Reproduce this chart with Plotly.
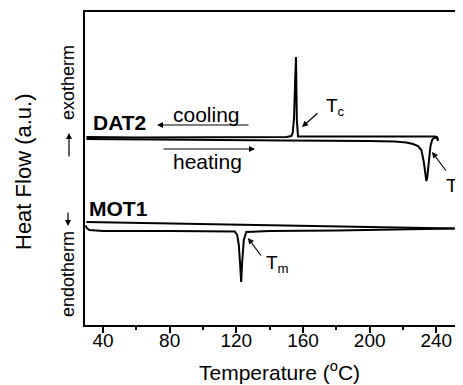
import plotly.graph_objects as go

# ---------------- data (Heat flow, arbitrary units) ----------------
dat2_cool_T = [241.0, 240.5, 239.0, 220, 200, 180, 160, 157.0, 156.3, 155.8, 155.3, 154.6, 153.8, 153.0, 150, 120, 90, 60, 30]
dat2_cool_H = [18.5, 18.8, 18.86, 18.86, 18.86, 18.86, 18.86, 18.86, 20.5, 26.8, 24.5, 20.6, 19.2, 18.9, 18.8, 18.78, 18.76, 18.76, 18.8]

dat2_heat_T = [30, 60, 100, 150, 200, 215, 222, 226, 229, 231, 232.5, 233.5, 234.0, 234.5, 235.5, 236.5, 237.5, 238.5, 239.5, 240.5, 241.0]
dat2_heat_H = [18.6, 18.55, 18.5, 18.45, 18.4, 18.35, 18.25, 18.1, 17.9, 17.5, 16.3, 14.7, 14.4, 14.7, 16.5, 17.9, 18.5, 18.7, 18.75, 18.65, 18.4]

mot1_cool_T = [251, 200, 150, 100, 30]
mot1_cool_H = [9.65, 9.8, 9.95, 10.1, 10.3]

mot1_heat_T = [29.5, 30.5, 32, 40, 80, 115, 119, 120.5, 121.5, 122.3, 122.9, 123.5, 124.5, 126, 140, 180, 220, 251]
mot1_heat_H = [9.95, 9.65, 9.5, 9.4, 9.4, 9.4, 9.35, 9.0, 8.0, 6.0, 4.3, 6.3, 8.5, 9.3, 9.4, 9.45, 9.55, 9.65]

x_ticks = [40, 80, 120, 160, 200, 240]
x_minor = [60, 100, 140, 180, 220]
x_range = [29.2, 256.0]
y_range = [0, 31.3]

FONT = "Liberation Sans, Arial, sans-serif"

# page geometry (pixels in the 463x385 window); the page body has an 8px margin
OFF = 8
PAGE_W, PAGE_H = 463, 385
W, H = PAGE_W - OFF, PAGE_H - OFF
P_LEFT, P_TOP, P_BOTTOM, P_RIGHT = 85, 12, 325, 463
ML, MT = P_LEFT - OFF, P_TOP - OFF
MB = PAGE_H - P_BOTTOM
MR = PAGE_W - P_RIGHT
PW, PH = P_RIGHT - P_LEFT, P_BOTTOM - P_TOP

def X(px):
    return x_range[0] + (px - P_LEFT) / PW * (x_range[1] - x_range[0])

def Y(py):
    return y_range[0] + (P_BOTTOM - py) / PH * (y_range[1] - y_range[0])

def PX(px):
    return (px - P_LEFT) / PW

def PY(py):
    return (P_BOTTOM - py) / PH

fig = go.Figure()
line = dict(color="black", width=2)
for t, h in [(dat2_cool_T, dat2_cool_H), (dat2_heat_T, dat2_heat_H),
             (mot1_cool_T, mot1_cool_H), (mot1_heat_T, mot1_heat_H)]:
    fig.add_trace(go.Scatter(x=t, y=h, mode="lines", line=line, showlegend=False,
                             hoverinfo="skip"))

ann = []
def txt(px, py, s, size=19, bold=False, xanchor="center"):
    ann.append(dict(x=X(px), y=Y(py), xref="x", yref="y", text=(f"<b>{s}</b>" if bold else s),
                    showarrow=False, xanchor=xanchor, yanchor="middle",
                    font=dict(family=FONT, size=size, color="black")))

def arrow(tx, ty, hx, hy, width=1.2, size=1.0):
    ann.append(dict(x=X(hx), y=Y(hy), ax=X(tx), ay=Y(ty), xref="x", yref="y",
                    axref="x", ayref="y", text="", showarrow=True, arrowhead=2,
                    arrowsize=size, arrowwidth=width, arrowcolor="black"))

txt(119, 122, "DAT2", size=21, bold=True)
txt(118, 208, "MOT1", size=21, bold=True)
txt(206, 114, "cooling", size=21)
txt(207, 161, "heating", size=21)
arrow(250, 125, 157, 125)
arrow(162, 149, 255, 149)
txt(324, 107, "T<sub>c</sub>", size=19, xanchor="left")
arrow(319, 112, 302, 127)
txt(444, 187, "T<sub>m</sub>", size=19, xanchor="left")
arrow(447, 172, 432, 152)
txt(264, 264, "T<sub>m</sub>", size=19, xanchor="left")
arrow(262, 257, 248, 238)

def side(px, py, s, size):
    ann.append(dict(x=PX(px), y=PY(py), xref="paper", yref="paper", text=s,
                    textangle=-90, showarrow=False, xanchor="center", yanchor="middle",
                    font=dict(family=FONT, size=size, color="black")))

side(23, 172, "Heat Flow (a.u.)", 22)
side(68, 83, "exotherm", 18)
side(68, 274, "endotherm", 18)
ann.append(dict(x=PX(279), y=PY(371), xref="paper", yref="paper",
                text="Temperature (<sup>o</sup>C)", showarrow=False,
                xanchor="center", yanchor="middle",
                font=dict(family=FONT, size=21, color="black")))
ann.append(dict(x=PX(69), y=PY(133), ax=0, ay=25, xref="paper", yref="paper",
                axref="pixel", ayref="pixel", text="", showarrow=True, arrowhead=2,
                arrowsize=1, arrowwidth=1.2, arrowcolor="black"))
ann.append(dict(x=PX(68), y=PY(226), ax=0, ay=-15, xref="paper", yref="paper",
                axref="pixel", ayref="pixel", text="", showarrow=True, arrowhead=2,
                arrowsize=1, arrowwidth=1.2, arrowcolor="black"))

fig.update_layout(
    width=W, height=H,
    margin=dict(l=ML, r=MR, t=MT, b=MB, pad=0, autoexpand=False),
    paper_bgcolor="white", plot_bgcolor="white",
    font=dict(family=FONT, color="black"),
    annotations=ann,
    xaxis=dict(range=x_range, tickvals=x_ticks, ticks="outside", ticklen=6, tickwidth=1.5,
               tickcolor="black", showline=True, linecolor="black", linewidth=1.5,
               mirror=True, showgrid=False, zeroline=False, automargin=False,
               ticklabelstandoff=-9,
               tickfont=dict(family=FONT, size=19, color="black"),
               minor=dict(tickvals=x_minor, ticks="outside", ticklen=3,
                          tickwidth=1.5, tickcolor="black", showgrid=False)),
    yaxis=dict(range=y_range, showticklabels=False, ticks="", showline=True,
               linecolor="black", linewidth=1.5, showgrid=False, zeroline=False,
               automargin=False),
)

fig.write_html("out.html")
